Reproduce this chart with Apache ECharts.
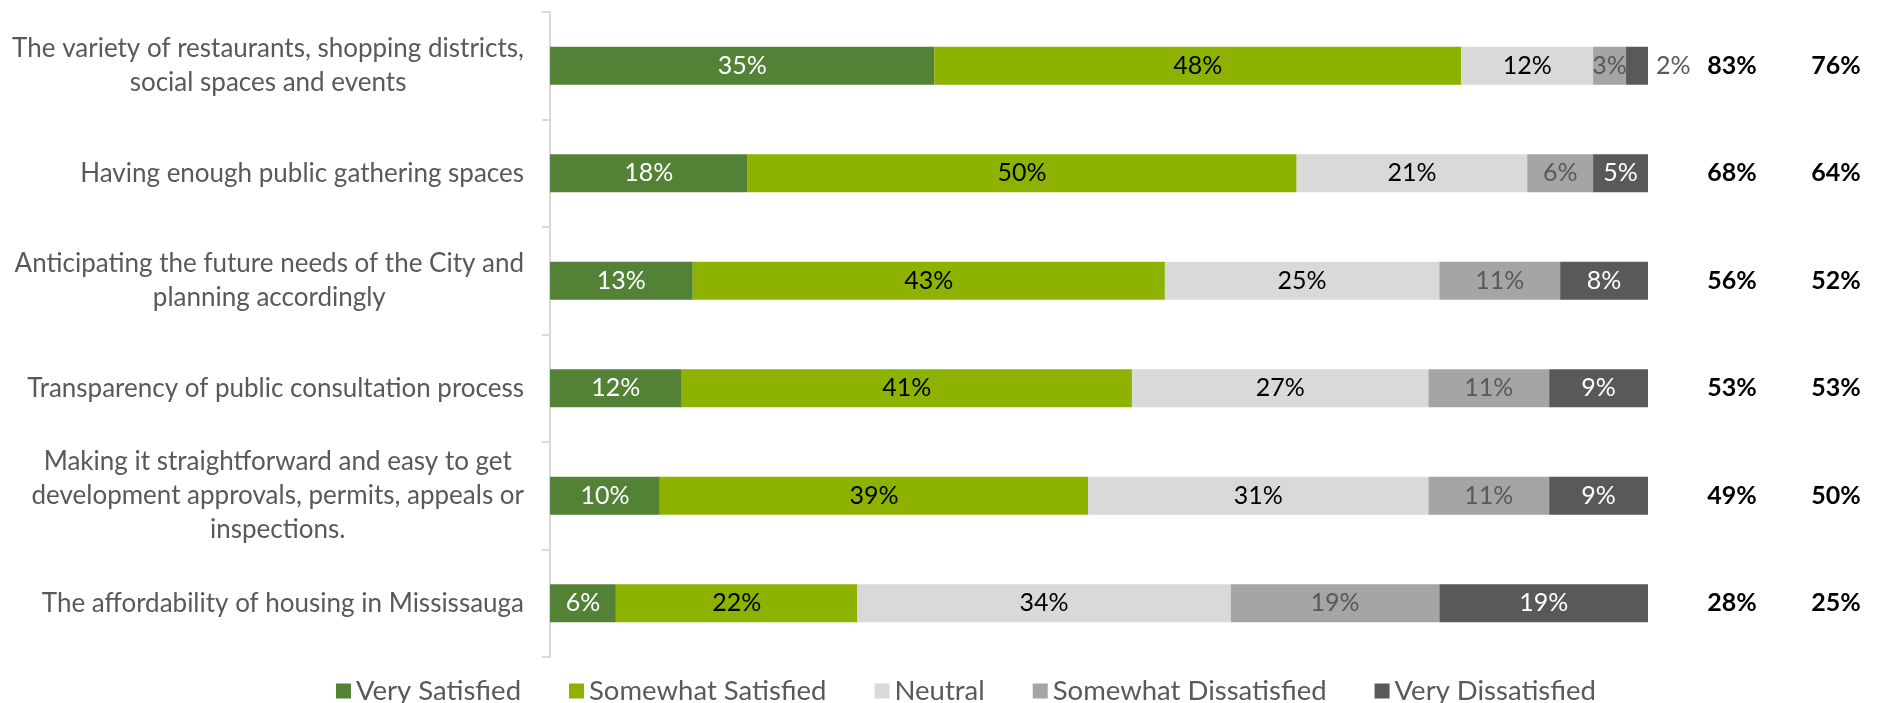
<!DOCTYPE html>
<html>
<head>
<meta charset="utf-8">
<script src="https://cdn.jsdelivr.net/npm/echarts@6/dist/echarts.min.js"></script>
<style>
html,body{margin:0;padding:0;background:#fff;}
#chart{width:1880px;height:703px;}
</style>
</head>
<body>
<div id="chart"></div>
<script>
const categories = [
  'The variety of restaurants, shopping districts,\nsocial spaces and events',
  'Having enough public gathering spaces',
  'Anticipating the future needs of the City and\nplanning accordingly',
  'Transparency of public consultation process',
  'Making it straightforward and easy to get\ndevelopment approvals, permits, appeals or\ninspections.',
  'The affordability of housing in Mississauga'
];
const seriesNames = ['Very Satisfied', 'Somewhat Satisfied', 'Neutral', 'Somewhat Dissatisfied', 'Very Dissatisfied'];
const verySatisfied = [35, 18, 13, 12, 10, 6];
const somewhatSatisfied = [48, 50, 43, 41, 39, 22];
const neutral = [12, 21, 25, 27, 31, 34];
const somewhatDissatisfied = [3, 6, 11, 11, 11, 19];
const veryDissatisfied = [2, 5, 8, 9, 9, 19];
const totalSatisfied2023 = ['83%', '68%', '56%', '53%', '49%', '28%'];
const totalSatisfiedPrev = ['76%', '64%', '52%', '53%', '50%', '25%'];

const colors = ['#538135', '#8db300', '#d9d9d9', '#a5a5a5', '#595959'];
const labelColors = ['#ffffff', '#000000', '#000000', '#595959', '#ffffff'];
const values = [verySatisfied, somewhatSatisfied, neutral, somewhatDissatisfied, veryDissatisfied];

const FONT = 'Lato, "Liberation Sans", sans-serif';

const chart = echarts.init(document.getElementById('chart'), null, {renderer: 'canvas'});

const series = values.map((arr, si) => ({
  name: seriesNames[si],
  type: 'bar',
  stack: 'total',
  barWidth: 38,
  itemStyle: {color: colors[si]},
  label: {
    show: true,
    position: 'inside',
    color: labelColors[si],
    fontFamily: FONT,
    fontSize: 25,
    formatter: p => p.value + '%'
  },
  data: arr.map((v, i) => {
    if (si === 4 && v <= 2) {
      return {value: v, label: {position: 'right', color: '#595959', distance: 8}};
    }
    return v;
  })
}));

chart.setOption({
  animation: false,
  textStyle: {fontFamily: FONT},
  legend: {
    data: seriesNames,
    left: 331,
    top: 672,
    itemWidth: 15,
    itemHeight: 15,
    itemGap: 48,
    icon: 'rect',
    textStyle: {color: '#595959', fontSize: 27.5, fontFamily: FONT}
  },
  grid: {left: 550, right: 232, top: 12, bottom: 46, containLabel: false},
  xAxis: {
    type: 'value', min: 0, max: 100, show: false
  },
  yAxis: [
    {
      type: 'category',
      inverse: true,
      data: categories,
      axisLine: {show: true, lineStyle: {color: '#d9d9d9', width: 2}},
      axisTick: {show: true, length: 8, lineStyle: {color: '#d9d9d9', width: 2}},
      axisLabel: {
        margin: 26,
        color: '#595959',
        fontSize: 26,
        fontFamily: FONT,
        lineHeight: 34,
        formatter: v => v.split('\n').map(l => '{c|' + l + '}').join('\n'),
        rich: {c: {align: 'center', color: '#595959', fontSize: 26, fontFamily: FONT, lineHeight: 34}}
      }
    },
    {
      type: 'category',
      inverse: true,
      position: 'right',
      data: totalSatisfied2023,
      axisLine: {show: false},
      axisTick: {show: false},
      axisLabel: {margin: 84, align: 'center', color: '#000', fontWeight: 'bold', fontSize: 25, fontFamily: FONT}
    },
    {
      type: 'category',
      inverse: true,
      position: 'right',
      data: totalSatisfiedPrev,
      axisLine: {show: false},
      axisTick: {show: false},
      axisLabel: {margin: 188, align: 'center', color: '#000', fontWeight: 'bold', fontSize: 25, fontFamily: FONT}
    }
  ],
  series: series
});
</script>
</body>
</html>
